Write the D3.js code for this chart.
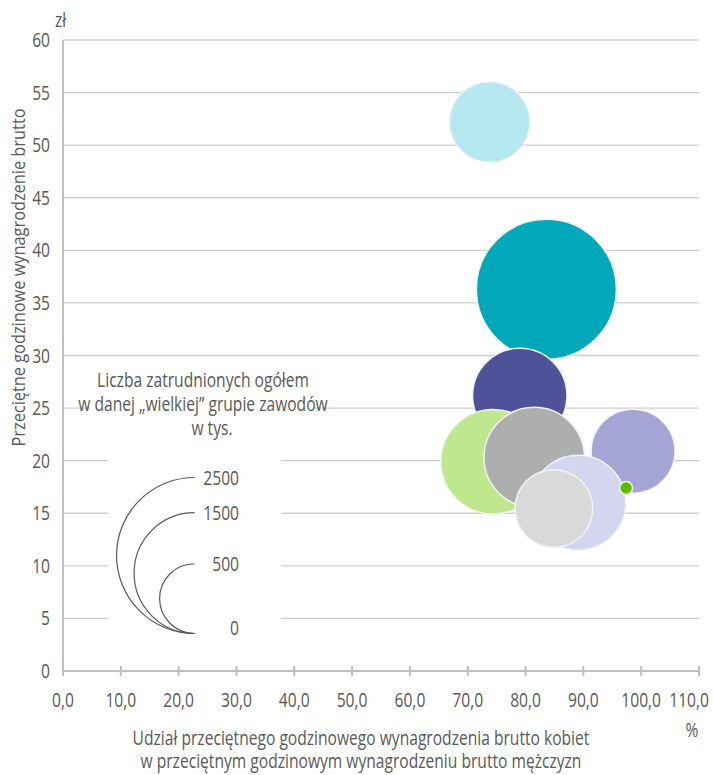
<!DOCTYPE html>
<html><head><meta charset="utf-8">
<script src="https://cdn.jsdelivr.net/npm/d3@7"></script>
<style>
html,body{margin:0;padding:0;background:#fff;}
svg{display:block;}
.n{font-family:"Open Sans","Noto Sans",sans-serif;fill:#595959;}
.r{font-family:"Open Sans","Noto Sans",sans-serif;fill:#595959;}
</style>
</head><body>
<svg id="c" width="714" height="775"></svg>
<script>
// ---- data ----
// drawing order follows the reference layering
const names    = ["Kierownicy","Specjaliści","Technicy","Robotnicy","Usługi i sprzedaż","Pracownicy biurowi","Operatorzy","Prace proste","Siły zbrojne"];
const share    = [73.8, 83.6, 79.0, 98.6, 74.4, 81.5, 89.1, 84.9, 97.4];   // % of men's wage
const wage     = [52.2, 36.3, 26.2, 20.9, 19.9, 20.3, 16.0, 15.45, 17.4]; // zł per hour
const employed = [667, 2013, 915, 725, 1124, 1036, 927, 619, 17];        // thousands
const colors   = ["#b6e8ef","#00a8b9","#4f5199","#a5a5d5","#bfe78e","#adaeae","#d4d5ee","#d9d9d9","#5cbb00"];
const xTickVals = [0,10,20,30,40,50,60,70,80,90,100,110];
const yTickVals = [0,5,10,15,20,25,30,35,40,45,50,55,60];
const legendVals = [2500,1500,500,0];

const svg = d3.select("#c");
const x = d3.scaleLinear().domain([0,110]).range([63,699]);
const y = d3.scaleLinear().domain([0,60]).range([671,40]);
const rs = d3.scaleSqrt().domain([0,2500]).range([0,78]);
const fmt = v => d3.format(".1f")(v).replace(".",",");
const K = 0.78; // horizontal condensing to mimic a condensed face
function condense(sel, k){
  sel.each(function(){
    const w = this.getComputedTextLength();
    d3.select(this).attr("textLength", w*k).attr("lengthAdjust","spacingAndGlyphs");
  });
}

// gridlines
svg.append("g").selectAll("line").data(yTickVals.filter(d=>d>0)).join("line")
  .attr("x1",x(0)).attr("x2",x(110)).attr("y1",d=>y(d)).attr("y2",d=>y(d))
  .attr("stroke","#cfcfcf").attr("stroke-width",1.3);

// y tick labels
svg.append("g").selectAll("text").data(yTickVals).join("text").attr("class","n")
  .attr("x",50).attr("y",d=>y(d)).attr("dy","0.35em").attr("text-anchor","end")
  .attr("font-size",20).text(d=>d).call(condense,K);

// axes lines
svg.append("line").attr("x1",x(0)).attr("x2",x(0)).attr("y1",y(60)).attr("y2",y(0))
  .attr("stroke","#bfbfbf").attr("stroke-width",2);
svg.append("line").attr("x1",x(0)).attr("x2",x(110)).attr("y1",y(0)).attr("y2",y(0))
  .attr("stroke","#bfbfbf").attr("stroke-width",2);
svg.append("g").selectAll("line").data(xTickVals).join("line")
  .attr("x1",d=>x(d)).attr("x2",d=>x(d)).attr("y1",y(0)-5).attr("y2",y(0)+5)
  .attr("stroke","#bfbfbf").attr("stroke-width",2);
svg.append("g").selectAll("text").data(xTickVals).join("text").attr("class","n")
  .attr("x",d=> d===110 ? 709 : x(d)).attr("y",707)
  .attr("text-anchor",d=> d===110 ? "end":"middle")
  .attr("font-size",20).text(d=>fmt(d)).call(condense,K);

// unit labels
svg.append("text").attr("class","n").attr("x",55).attr("y",27).attr("font-size",20).text("zł").call(condense,K);
svg.append("text").attr("class","n").attr("x",692).attr("y",737).attr("text-anchor","middle").attr("font-size",20).text("%").call(condense,K);

// axis titles
svg.append("text").attr("class","r").attr("transform","translate(25,277.5) rotate(-90)")
  .attr("text-anchor","middle").attr("font-size",19).text("Przeciętne godzinowe wynagrodzenie brutto").call(condense,0.86);
const xt = svg.append("text").attr("class","n").attr("text-anchor","middle").attr("font-size",20);
xt.append("tspan").attr("x",361).attr("y",745).text("Udział przeciętnego godzinowego wynagrodzenia brutto kobiet");
xt.append("tspan").attr("x",361).attr("y",768).text("w przeciętnym godzinowym wynagrodzeniu brutto mężczyzn");
xt.selectAll("tspan").call(condense,K);

// legend background
svg.append("rect").attr("x",90).attr("y",367).attr("width",224).attr("height",75).attr("fill","#fff");
svg.append("rect").attr("x",108).attr("y",440).attr("width",173).attr("height",205).attr("fill","#fff");
const lt = svg.append("g").attr("class","n").attr("font-size",20);
const ltitle = [["Liczba zatrudnionych ogółem",203,387],["w danej „wielkiej” grupie zawodów",203,411],["w tys.",212,435]];
lt.selectAll("text").data(ltitle).join("text").attr("class","n").attr("text-anchor","middle")
  .attr("x",d=>d[1]).attr("y",d=>d[2]).text(d=>d[0]).call(condense,K);

const lx = 194.5, lb = 633.5;
svg.append("g").selectAll("path").data(legendVals.filter(d=>d>0)).join("path")
  .attr("d",d=>{const r=rs(d); return `M${lx},${lb-2*r} A${r},${r} 0 0 0 ${lx},${lb}`;})
  .attr("fill","none").attr("stroke","#595959").attr("stroke-width",1.2);
svg.append("g").selectAll("text").data(legendVals).join("text").attr("class","n")
  .attr("x",239).attr("y",d=> d===0 ? lb-6 : lb-2*rs(d)).attr("dy","0.35em")
  .attr("text-anchor","end").attr("font-size",20).text(d=>d).call(condense,K);

// bubbles
svg.append("g").selectAll("circle").data(names).join("circle")
  .attr("cx",(d,i)=>x(share[i])).attr("cy",(d,i)=>y(wage[i])).attr("r",(d,i)=>rs(employed[i]))
  .attr("fill",(d,i)=>colors[i]).attr("stroke","#f2f2f2").attr("stroke-width",1.5);
</script>
</body></html>
